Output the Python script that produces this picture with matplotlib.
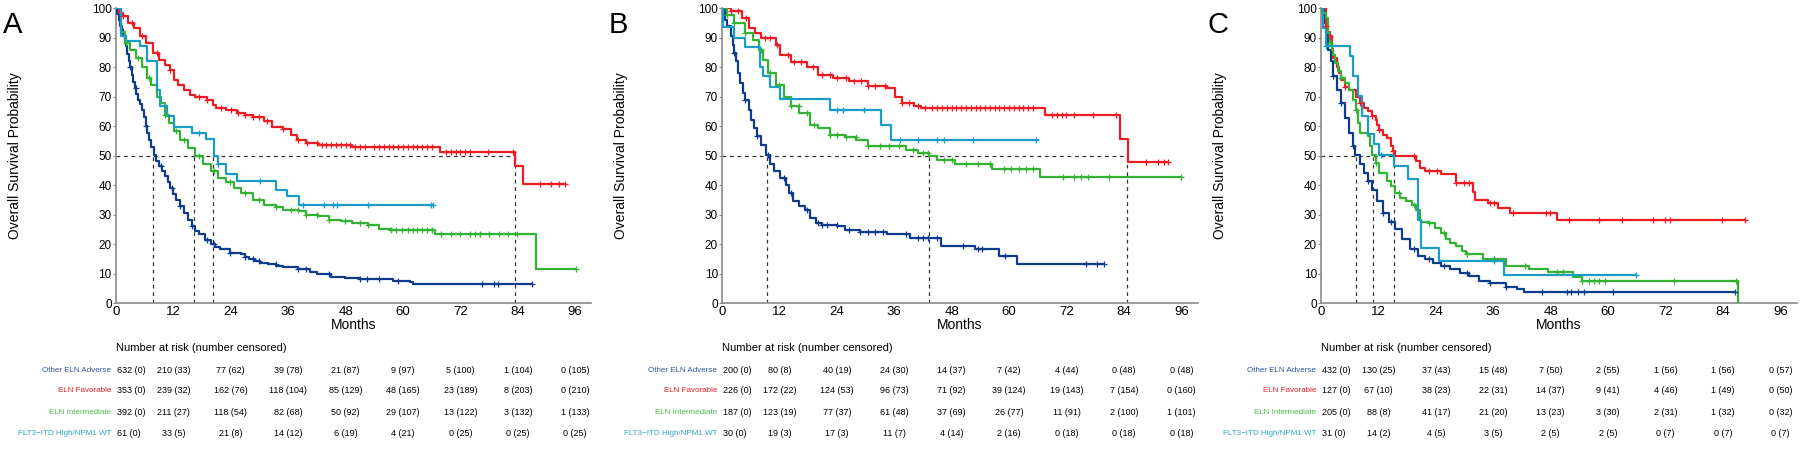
import numpy as np
import matplotlib
matplotlib.use('Agg')
import matplotlib.pyplot as plt
from matplotlib.transforms import blended_transform_factory

plt.rcParams['font.family'] = ['Liberation Sans', 'DejaVu Sans']

groups = ['Other ELN Adverse', 'ELN Favorable', 'ELN Intermediate', 'FLT3\u2212ITD High/NPM1 WT']
line_colors = ['#0f3b8c', '#ec1c24', '#33b233', '#1b9cc6']
label_colors = ['#2a55a0', '#ec1c24', '#4cbb4c', '#2aa5c9']
months_ticks = [0, 12, 24, 36, 48, 60, 72, 84, 96]

# ---- panel A ----
a_adv_t = [0, 0.3, 0.6, 0.9, 1.2, 1.5, 1.8, 2.1, 2.4, 2.7, 3.0, 3.3, 3.6, 3.9, 4.3, 4.7, 5.0, 5.4, 5.8, 6.2,
           6.6, 7.0, 7.4, 7.9, 8.4, 9.0, 9.6, 10.2, 10.8, 11.4, 12.0, 12.6, 13.4, 14.2, 15.0, 15.8, 16.6,
           17.4, 18.6, 19.8, 20.8, 21.8, 23.8, 26.2, 27, 27.8, 29, 30.2, 31.8, 33.5, 35, 38, 40.5, 42, 43,
           45, 47.8, 51, 55.8, 58, 61.4, 62, 87]
a_adv_s = [100, 98, 96, 94, 92.5, 91, 89, 87, 84.5, 82, 80, 77.5, 75, 73, 71, 69, 67.5, 65.6, 63, 60,
           57.8, 55.4, 53, 50.2, 48.3, 46.4, 44.7, 43, 41, 39.1, 37, 35.1, 32.8, 30.6, 28.3, 26.1, 24.6,
           23.3, 21.5, 19.9, 19, 18.2, 17, 16.5, 15.6, 14.8, 14.2, 13.7, 13.1, 12.6, 12.2, 11.4, 10.6, 10, 9.7,
           9, 8.6, 8.3, 8, 7.5, 7.1, 6.3, 6.3]
a_adv_c = [3, 4.2, 6.2, 9.4, 11.8, 13.4, 15.8, 19, 20.6, 23.8, 27, 28.6, 30, 33.4, 38, 39.8, 44.6,
           51, 52.5, 55, 59, 76.6, 79, 79.8, 87]
a_fav_t = [0, 0.6, 1.4, 2.6, 3.8, 5, 6.2, 7.8, 9, 10.2, 11.4, 12.2, 13, 14.2, 15.4, 16.6, 19, 20.2, 21,
           23, 25.4, 27, 28.6, 31, 32.6, 35, 36.6, 37.8, 39.8, 42.2, 49.4, 67.8, 83.4, 85, 93.8]
a_fav_s = [100, 98.3, 97.2, 94.9, 93.2, 90.4, 88.1, 84.8, 82.5, 80.8, 79.1, 75.7, 74, 72.3, 70.7, 69.8,
           69, 67.3, 66.1, 65.3, 64.4, 63.9, 63.1, 61.9, 59.6, 59, 57.1, 55.4, 54.3, 53.5, 52.8, 51.2,
           46.4, 40.5, 40.5]
a_fav_c = [1.4, 3.4, 5.4, 8.6, 11.4, 17.4, 19, 22, 24, 25.5, 27, 28.6, 30, 31.5, 35, 38, 40, 42, 43, 44,
           45, 46, 47, 48, 49, 50, 51, 52, 54, 55, 56, 57, 58, 59, 60, 61, 62, 63, 64, 65, 66, 69, 70,
           71, 72, 73, 74, 77.8, 83, 88.7, 91, 92.6, 93.8]
a_int_t = [0, 1, 1.8, 3, 4.2, 5.4, 6.6, 7.4, 8.6, 9.4, 10.2, 11, 12.2, 13.4, 15, 16.6, 18.2, 19.8, 21.4,
           23, 24.6, 26.2, 28.6, 31, 33.4, 35, 38.2, 39.8, 42.2, 44.6, 47, 49.4, 52.6, 55, 57.4, 66.6,
           87.8, 96.2]
a_int_s = [100, 92, 88.1, 85.9, 83, 80.2, 76.3, 74, 70, 67.8, 63.9, 61, 58.2, 55.4, 52.6, 49.8, 47, 44.7,
           42.4, 41, 39, 37.4, 35.1, 33.4, 32.6, 31.7, 31.2, 30, 29.5, 28.3, 27.8, 27.2, 26.6, 25.2,
           24.7, 23.3, 11.6, 11.6]
a_int_c = [2.2, 4.6, 7, 10.2, 12.6, 14.2, 17.4, 20.6, 23.8, 27, 30, 33.4, 36.6, 38, 39.8, 42, 44.6,
           47.8, 51, 52.6, 57.4, 58.6, 59.8, 61, 62, 63, 64, 65, 66, 68, 70, 72, 74, 75, 76, 78, 80,
           82, 83.8, 96.2]
a_flt_t = [0, 1, 2.2, 5, 6.6, 8.6, 9.2, 10.6, 12.2, 15.8, 18.8, 20.4, 21.4, 23, 25.4, 33.4, 35.8, 38.2, 66.2]
a_flt_s = [100, 90.4, 88.7, 87, 82, 72.4, 66.7, 63.3, 59.6, 57.7, 55.6, 49.8, 47, 43.6, 41.3, 38.5,
           36.2, 33.4, 33.4]
a_flt_c = [17.4, 21.4, 30.2, 39, 43.4, 45.4, 46.2, 52.6, 65.8, 66.2]
a_medians = [7.8, 16.3, 20.3, 83.5]
a_risk_adv = [632, 210, 77, 39, 21, 9, 5, 1, 0]
a_cens_adv = [0, 33, 62, 78, 87, 97, 100, 104, 105]
a_risk_fav = [353, 239, 162, 118, 85, 48, 23, 8, 0]
a_cens_fav = [0, 32, 76, 104, 129, 165, 189, 203, 210]
a_risk_int = [392, 211, 118, 82, 50, 29, 13, 3, 1]
a_cens_int = [0, 27, 54, 68, 92, 107, 122, 132, 133]
a_risk_flt = [61, 33, 21, 14, 6, 4, 0, 0, 0]
a_cens_flt = [0, 5, 8, 12, 19, 21, 25, 25, 25]

# ---- panel B ----
b_adv_t = [0, 0.6, 1, 1.8, 2.2, 2.6, 3, 3.4, 3.8, 4.3, 4.9, 5.6, 6.1, 6.7, 7.3, 8.1, 9.3, 10.1, 10.9,
           12.1, 13.3, 14.1, 14.9, 16.1, 17.3, 18.5, 19.7, 20.9, 24.1, 25.7, 28.9, 34.5, 39.3, 45.7,
           52.8, 58, 61.6, 79.8]
b_adv_s = [100, 96, 93.8, 90.4, 87.6, 84.8, 82, 78, 74.6, 71.2, 69, 65.6, 62.2, 59.4, 56.5, 53.7, 50.2,
           47, 44.7, 42.4, 40.2, 37.4, 34.5, 32.8, 31.5, 28.9, 27, 26.6, 26, 24.9, 24, 23.3, 22.1, 19.5,
           18.2, 15.9, 13.3, 13.3]
b_adv_c = [2.6, 4.9, 7.3, 9.7, 12.9, 14.5, 17.7, 20.1, 21, 22, 24, 26.5, 28.9, 30.5, 32, 33.7, 38.5, 41,
           42, 43, 45, 50.4, 53.6, 54.4, 59.2, 76, 78.4, 79.8]
b_fav_t = [0, 1.8, 4.1, 5.7, 7, 8.1, 11.3, 12.1, 14.5, 17.7, 20.1, 23.3, 26.5, 30.5, 34.5, 36.1, 37.7,
           40.1, 41.7, 67.6, 83.2, 84.8, 93.3]
b_fav_s = [100, 98.9, 96.6, 93.2, 91.5, 89.8, 87.6, 84.2, 81.9, 80.2, 77.4, 76.3, 75.2, 73.7, 72.9, 70,
           67.8, 66.7, 66, 63.6, 55.6, 47.7, 47.7]
b_fav_c = [1.8, 3.4, 5, 9, 10, 11.5, 13.7, 15, 16.5, 19, 21, 22.5, 24, 26, 27.5, 29, 30.5, 32, 34, 37.7,
           39, 40.9, 42.5, 44, 45, 46, 47, 48, 49, 50, 51, 52, 53, 54, 55, 56, 57, 58, 59, 60, 61, 62,
           63, 64, 65, 69, 70, 71, 72, 73.5, 77.6, 82.3, 88.7, 91.1, 92.3, 93.3]
b_int_t = [0, 1, 2.6, 4.9, 6.5, 7.7, 8.5, 9.7, 11.3, 12.9, 14.5, 16.1, 18.5, 20.1, 22.5, 25.7, 28.1, 30.5,
           38.5, 40.9, 43.3, 44.9, 48.8, 56.4, 66.4, 95.9]
b_int_s = [100, 97.7, 94.9, 91.5, 89.3, 85.9, 82.5, 78, 74, 70, 66.7, 64.4, 60.5, 59.4, 57.1, 56.3, 55.4,
           53.2, 52, 50.9, 49.8, 48.4, 47.3, 45.3, 42.7, 42.7]
b_int_c = [1, 2.6, 4.9, 8.1, 10, 12, 14.5, 16, 17.7, 19.3, 22.5, 24, 26, 28, 30.5, 33, 35, 37, 40, 42,
           43, 46.4, 48, 51, 53.5, 56, 59, 60.5, 62, 63.5, 65, 71.2, 73.6, 75, 76.4, 80.8, 95.9]
b_flt_t = [0, 0.3, 2.6, 4.9, 8, 8.5, 10.1, 12.1, 22.5, 33.3, 35.3, 66]
b_flt_s = [100, 93.5, 90, 86.7, 80.2, 76.9, 73.1, 69.3, 65.6, 60.5, 55.4, 55.4]
b_flt_c = [24.1, 25.3, 29.7, 37.3, 40.9, 44.9, 46.4, 52.4, 65.6]
b_medians = [9.4, 43.2, 84.6]
b_risk_adv = [200, 80, 40, 24, 14, 7, 4, 0, 0]
b_cens_adv = [0, 8, 19, 30, 37, 42, 44, 48, 48]
b_risk_fav = [226, 172, 124, 96, 71, 39, 19, 7, 0]
b_cens_fav = [0, 22, 53, 73, 92, 124, 143, 154, 160]
b_risk_int = [187, 123, 77, 61, 37, 26, 11, 2, 1]
b_cens_int = [0, 19, 37, 48, 69, 77, 91, 100, 101]
b_risk_flt = [30, 19, 17, 11, 4, 2, 0, 0, 0]
b_cens_flt = [0, 3, 3, 7, 14, 16, 18, 18, 18]

# ---- panel C ----
c_adv_t = [0, 0.6, 1, 1.5, 2, 2.6, 3.4, 4.2, 5, 5.8, 6.6, 7.1, 8.2, 9, 9.8, 10.6, 11.8, 13, 14.2, 15.4,
           17, 18.6, 20.2, 21.8, 23.4, 25, 27, 29, 31, 33, 35.4, 38.6, 41, 42.5, 86.5]
c_adv_s = [100, 95, 91.5, 85.9, 82, 76.9, 72.3, 67.8, 62.8, 57.7, 53.2, 50.2, 47, 44.1, 41.3, 38.5, 34.5,
           30.6, 27.4, 25, 21.6, 18.2, 16.1, 14.8, 13.7, 12.5, 11.4, 10.3, 9.1, 7.5, 6.7, 5.6, 4.9, 3.7, 3.7]
c_adv_c = [2.6, 4.2, 6.6, 9.8, 13, 14.6, 19.4, 22.6, 25.8, 30.6, 35.4, 38.7, 46.2, 51.4, 52.3, 53.8,
           54.9, 61, 86.5]
c_fav_t = [0, 1, 1.4, 1.8, 2.2, 2.6, 3.4, 3.8, 4.2, 5, 5.8, 7.4, 8.2, 9, 9.8, 10.6, 11.4, 11.8, 12.2, 13,
           13.8, 14.6, 15, 15.4, 19.8, 20.6, 21.8, 25, 28.2, 31.8, 32.2, 35, 37, 39.4, 49.4, 88.6]
c_fav_s = [100, 94, 92, 90.4, 86, 83, 80.2, 78, 75.7, 73.2, 72.3, 70, 67.8, 66.1, 65, 63.5, 62.2, 60.5,
           58.8, 57.1, 56, 53.2, 51.5, 49.8, 48.1, 45.9, 44.7, 43.6, 40.7, 37.6, 35.1, 34, 32.3, 30.6,
           28.1, 28.1]
c_fav_c = [1, 1.8, 5, 8.2, 10.6, 12.2, 15, 19.4, 22.6, 24.2, 28.2, 29.8, 31, 35.4, 36.2, 40.2, 47, 47.8,
           51.8, 58.2, 63, 69.4, 71.8, 73, 83.8, 88.6]
c_int_t = [0, 0.2, 1, 1.4, 1.8, 2.2, 2.6, 3, 3.5, 4.2, 5, 5.8, 6.6, 7.4, 7.8, 8.2, 9.8, 10.2, 10.7, 11.4,
           12.2, 13.8, 14.6, 15.4, 16.6, 17.8, 19, 19.8, 20.6, 21, 22.6, 23.8, 25, 26.2, 27, 28.2, 29.4,
           30.2, 33.8, 38.6, 43.4, 47.4, 52.6, 54.6, 87.1]
c_int_s = [100, 98.3, 96.6, 91.5, 88.1, 85.9, 84.2, 81.4, 78.6, 76.3, 74.6, 72.3, 69, 65.6, 61, 57.7,
           56.5, 53.2, 50.2, 47.5, 44.1, 41.3, 39.6, 37.4, 35.7, 34.5, 33.4, 31.7, 28.3, 27.4, 27.2, 25.5,
           23.8, 21.6, 20.2, 19.3, 17.6, 16.5, 14.8, 12.5, 11.6, 10.5, 8.9, 7.5, 0]
c_int_c = [1.8, 4.2, 7.4, 11.4, 16.2, 19.4, 22.6, 25.8, 30.6, 36.2, 42.6, 49.4, 50.6, 54.6, 56, 57, 58,
           59.4, 73.8, 86.8]
c_flt_t = [0, 0.4, 1, 6, 6.6, 7.8, 8.6, 9.8, 11, 12.2, 15.2, 18.2, 20.2, 21, 24.6, 38.2, 65.8]
c_flt_s = [100, 93.2, 87.2, 83.9, 77.1, 70.3, 63.5, 57.4, 53.9, 50.2, 46.6, 42, 28.3, 18.7, 14.3, 9.4, 9.4]
c_flt_c = [1, 12.6, 36.2, 65.8]
c_medians = [7.3, 10.9, 15.2]
c_risk_adv = [432, 130, 37, 15, 7, 2, 1, 1, 0]
c_cens_adv = [0, 25, 43, 48, 50, 55, 56, 56, 57]
c_risk_fav = [127, 67, 38, 22, 14, 9, 4, 1, 0]
c_cens_fav = [0, 10, 23, 31, 37, 41, 46, 49, 50]
c_risk_int = [205, 88, 41, 21, 13, 3, 2, 1, 0]
c_cens_int = [0, 8, 17, 20, 23, 30, 31, 32, 32]
c_risk_flt = [31, 14, 4, 3, 2, 2, 0, 0, 0]
c_cens_flt = [0, 2, 5, 5, 5, 5, 7, 7, 7]


def step_value(t, s, x):
    i = np.searchsorted(t, x, side='right') - 1
    return np.asarray(s)[np.clip(i, 0, len(s) - 1)]


def draw_panel(fig, left, letter, curves, medians, risk, cens):
    ax = fig.add_axes([left, 0.331, 0.2642, 0.651])
    for m in medians:
        ax.plot([m, m], [0, 50], color='#333333', lw=0.9, ls=(0, (3, 3)), zorder=1)
    ax.plot([0, max(medians)], [50, 50], color='#333333', lw=0.9, ls=(0, (3, 3)), zorder=1)

    for (t, s, c), col in zip(curves, line_colors):
        t = np.asarray(t, float)
        ax.step(t, s, where='post', color=col, lw=1.6, zorder=3)
        ax.plot(c, step_value(t, s, np.asarray(c)), ls='none', marker='+', ms=4.5, mew=0.9,
                color=col, zorder=4)

    ax.set_xlim(0, 99.4)
    ax.set_ylim(0, 100)
    ax.set_xticks(months_ticks)
    ax.set_yticks(range(0, 101, 10))
    ax.tick_params(axis='x', labelsize=9.5, length=0, pad=2)
    ax.tick_params(axis='y', labelsize=8.5, length=2, pad=1, color='#888888')
    for sp in ['top', 'right']:
        ax.spines[sp].set_visible(False)
    for sp in ['left', 'bottom']:
        ax.spines[sp].set_color('#8a8a8a')
        ax.spines[sp].set_linewidth(1.2)
    ax.set_xlabel('Months', fontsize=10, labelpad=0)
    ax.set_ylabel('Overall Survival Probability', fontsize=10, labelpad=0)
    ax.yaxis.set_label_coords(-0.198, 0.5)

    fig.text(left - 0.063, 0.975, letter, fontsize=21, va='top', ha='left')

    tr = blended_transform_factory(ax.transData, fig.transFigure)
    ax.text(0, 0.232, 'Number at risk (number censored)', transform=tr, fontsize=8,
            ha='left', va='center')
    row_y = [0.183, 0.137, 0.090, 0.044]
    for k in range(4):
        ax.text(-1, row_y[k], groups[k], transform=tr, fontsize=5.8, ha='right', va='center',
                color=label_colors[k])
        for j, mt in enumerate(months_ticks):
            txt = f'{risk[k][j]} ({cens[k][j]})'
            if j == 0:
                ax.text(0.3, row_y[k], txt, transform=tr, fontsize=6.5, ha='left', va='center')
            else:
                ax.text(mt, row_y[k], txt, transform=tr, fontsize=6.5, ha='center', va='center')
    return ax


fig = plt.figure(figsize=(18, 4.53), dpi=100)

draw_panel(fig, 0.0644, 'A',
           [(a_adv_t, a_adv_s, a_adv_c), (a_fav_t, a_fav_s, a_fav_c),
            (a_int_t, a_int_s, a_int_c), (a_flt_t, a_flt_s, a_flt_c)],
           a_medians,
           [a_risk_adv, a_risk_fav, a_risk_int, a_risk_flt],
           [a_cens_adv, a_cens_fav, a_cens_int, a_cens_flt])
draw_panel(fig, 0.4011, 'B',
           [(b_adv_t, b_adv_s, b_adv_c), (b_fav_t, b_fav_s, b_fav_c),
            (b_int_t, b_int_s, b_int_c), (b_flt_t, b_flt_s, b_flt_c)],
           b_medians,
           [b_risk_adv, b_risk_fav, b_risk_int, b_risk_flt],
           [b_cens_adv, b_cens_fav, b_cens_int, b_cens_flt])
draw_panel(fig, 0.7339, 'C',
           [(c_adv_t, c_adv_s, c_adv_c), (c_fav_t, c_fav_s, c_fav_c),
            (c_int_t, c_int_s, c_int_c), (c_flt_t, c_flt_s, c_flt_c)],
           c_medians,
           [c_risk_adv, c_risk_fav, c_risk_int, c_risk_flt],
           [c_cens_adv, c_cens_fav, c_cens_int, c_cens_flt])

fig.savefig('out.png', dpi=100)
